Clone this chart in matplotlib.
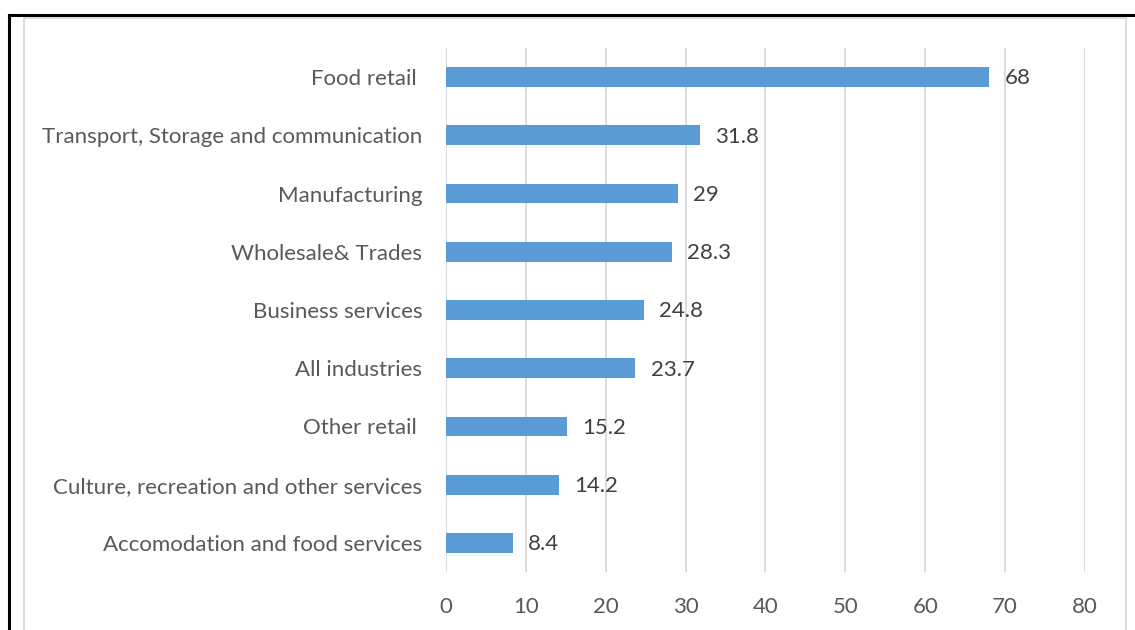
import matplotlib
matplotlib.use('Agg')
import matplotlib.pyplot as plt
from matplotlib.patches import Rectangle
from matplotlib.lines import Line2D

# industries, bottom to top
industries = ["Accomodation and food services",
              "Culture, recreation and other services",
              "Other retail ",
              "All industries",
              "Business services",
              "Wholesale& Trades",
              "Manufacturing",
              "Transport, Storage and communication",
              "Food retail "]
values = [8.4, 14.2, 15.2, 23.7, 24.8, 28.3, 29, 31.8, 68]
value_labels = ["8.4", "14.2", "15.2", "23.7", "24.8", "28.3", "29", "31.8", "68"]
xticks = [0, 10, 20, 30, 40, 50, 60, 70, 80]

plt.rcParams['font.family'] = ['Lato', 'DejaVu Sans']

fig = plt.figure(figsize=(11.35, 6.3), dpi=100)
W, H = 1135, 630

# outer black frame and grey chart-area frame
fig.add_artist(Line2D([9 / W, 9 / W], [0, 1 - 15 / H], color='black', lw=2.2, transform=fig.transFigure))
fig.add_artist(Line2D([9 / W, 1], [1 - 15 / H, 1 - 15 / H], color='black', lw=2.2, transform=fig.transFigure))
fig.add_artist(Rectangle((24 / W, -0.05), (1126 - 24) / W, 1.05 - 18.5 / H, fill=False,
                         edgecolor='#D9D9D9', lw=1.3, transform=fig.transFigure))

ax = fig.add_axes([446 / W, 1 - 572 / H, (1085 - 446) / W, (572 - 48) / H])
y = range(len(industries))
ax.barh(y, values, height=0.34, color='#5B9BD5', zorder=3)

for yi, v, lab in zip(y, values, value_labels):
    ax.annotate(lab, (v, yi), xytext=(11, -1), textcoords='offset points',
                va='center', ha='left', fontsize=16, color='#404040')

ax.set_xlim(0, 80)
ax.set_ylim(-0.5, len(industries) - 0.5)
ax.set_xticks(xticks)
ax.set_yticks(list(y))
ax.set_yticklabels(industries)
ax.tick_params(axis='both', length=0, labelsize=16, labelcolor='#595959')
ax.tick_params(axis='y', pad=17)
ax.tick_params(axis='x', pad=18)
ax.grid(axis='x', color='#D9D9D9', lw=1.3, zorder=0)
for s in ax.spines.values():
    s.set_visible(False)

fig.savefig('out.png', dpi=100)
